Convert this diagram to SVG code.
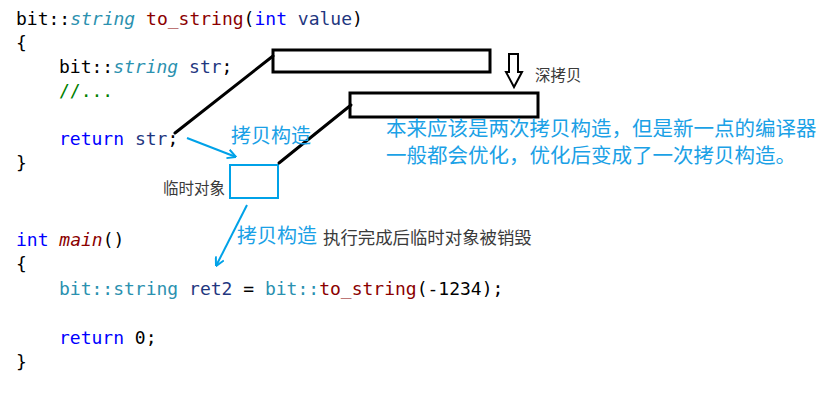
<svg xmlns="http://www.w3.org/2000/svg" width="832" height="402" viewBox="0 0 832 402">
  <style>
    .code { font-family: "DejaVu Sans Mono", "Liberation Mono", monospace; font-size: 18px; fill: #000000; }
    .kw { fill: #0000ff; }
    .ty { fill: #2b91af; }
    .it { font-style: italic; }
    .fn { fill: #8b0000; }
    .var { fill: #1f377f; }
    .cm { fill: #008000; }
    .cjk { font-family: "Noto Sans CJK SC", "Noto Sans", sans-serif; }
    .blue { fill: #1ba1e6; }
    .gray { fill: #3a3a3a; }
    .box { fill: none; stroke: #000000; stroke-width: 3; }
    .tmp { fill: none; stroke: #00a2e8; stroke-width: 2; }
    .blk { stroke: #000000; stroke-width: 3; fill: none; stroke-linecap: round; }
    .bl { stroke: #00a2e8; stroke-width: 2; fill: none; }
  </style>
  <defs>
    <marker id="openArrow" viewBox="0 0 10 10" refX="9.5" refY="5" markerWidth="10" markerHeight="10" markerUnits="userSpaceOnUse" orient="auto">
      <path d="M1,0.5 L9.5,5 L1,9.5" fill="none" stroke="#00a2e8" stroke-width="2"/>
    </marker>
  </defs>
  <rect width="832" height="402" fill="#ffffff"/>

  <g id="code">
    <text class="code" x="16" y="25">bit::<tspan class="ty it">string</tspan> <tspan class="fn">to_string</tspan>(<tspan class="kw">int</tspan> <tspan class="var">value</tspan>)</text>
    <text class="code" x="16" y="49">{</text>
    <text class="code" x="59" y="73">bit::<tspan class="ty it">string</tspan> <tspan class="var">str</tspan>;</text>
    <text class="code cm" x="59" y="97">//...</text>
    <text class="code" x="59" y="145"><tspan class="kw">return</tspan> <tspan class="var">str</tspan>;</text>
    <text class="code" x="16" y="169">}</text>
    <text class="code" x="16" y="246"><tspan class="kw">int</tspan> <tspan class="fn it">main</tspan>()</text>
    <text class="code" x="16" y="270">{</text>
    <text class="code" x="59" y="295"><tspan class="ty">bit::string</tspan> <tspan class="var">ret2</tspan> = <tspan class="ty">bit::</tspan><tspan class="fn">to_string</tspan>(-1234);</text>
    <text class="code" x="59" y="344"><tspan class="kw">return</tspan> 0;</text>
    <text class="code" x="16" y="368">}</text>
  </g>

  <g id="heap1">
    <rect class="box" x="273" y="50" width="217" height="22"/>
  </g>
  <g id="heap2">
    <rect class="box" x="350" y="93" width="188" height="24"/>
  </g>
  <g id="temp">
    <rect class="tmp" x="230" y="165" width="48" height="33"/>
    <text class="cjk gray" x="163" y="194" font-size="15.5">临时对象</text>
  </g>
  <g id="deepcopy">
    <path d="M509,54 L518,54 L518,72 L522,72 L514,87 L506,72 L509,72 Z" fill="none" stroke="#000000" stroke-width="2" stroke-linejoin="miter"/>
    <text class="cjk gray" x="535" y="81" font-size="15.5">深拷贝</text>
  </g>

  <g id="connectors">
    <line class="blk" x1="273" y1="56" x2="175" y2="133"/>
    <line class="blk" x1="351" y1="105" x2="279" y2="163"/>
    <line class="bl" x1="187" y1="138" x2="236" y2="157" marker-end="url(#openArrow)"/>
    <line class="bl" x1="247" y1="205" x2="216" y2="266" marker-end="url(#openArrow)"/>
  </g>

  <g id="labels">
    <text class="cjk blue" x="231" y="143" font-size="20">拷贝构造</text>
    <text class="cjk blue" x="237" y="243" font-size="20">拷贝构造</text>
    <text class="cjk gray" x="323" y="244" font-size="17.4">执行完成后临时对象被销毁</text>
    <text class="cjk blue" x="386" y="136" font-size="20.5">本来应该是两次拷贝构造，但是新一点的编译器</text>
    <text class="cjk blue" x="386" y="163" font-size="20.5">一般都会优化，优化后变成了一次拷贝构造。</text>
  </g>
</svg>
